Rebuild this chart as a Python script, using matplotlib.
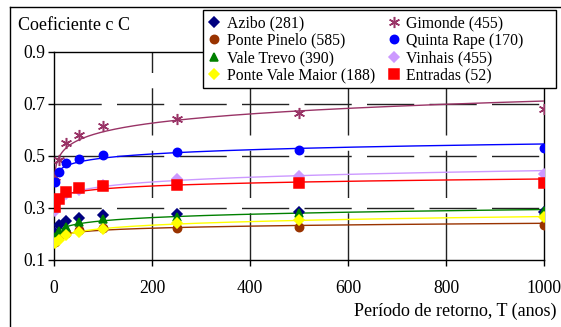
import numpy as np
import matplotlib
matplotlib.use("Agg")
import matplotlib.pyplot as plt
from matplotlib.patches import Rectangle
from matplotlib.lines import Line2D

plt.rcParams['font.family'] = ['Liberation Serif', 'DejaVu Serif']
plt.rcParams['lines.scale_dashes'] = False

# return periods (anos)
T = [2, 10, 25, 50, 100, 250, 500, 1000]

# coeficiente C per station
azibo = [0.205, 0.235, 0.251, 0.262, 0.272, 0.277, 0.284, 0.285]
ponte_pinelo = [0.17, 0.19, 0.205, 0.215, 0.222, 0.224, 0.228, 0.235]
vale_trevo = [0.19, 0.21, 0.228, 0.245, 0.258, 0.267, 0.279, 0.288]
ponte_vale_maior = [0.164, 0.177, 0.196, 0.209, 0.219, 0.241, 0.254, 0.267]
gimonde = [0.42, 0.485, 0.549, 0.58, 0.615, 0.642, 0.667, 0.68]
quinta_rape = [0.40, 0.44, 0.474, 0.487, 0.504, 0.517, 0.523, 0.53]
vinhais = [0.29, 0.33, 0.355, 0.37, 0.39, 0.41, 0.423, 0.431]
entradas = [0.305, 0.335, 0.363, 0.376, 0.386, 0.39, 0.395, 0.395]

labels = ['Azibo (281)', 'Ponte Pinelo (585)', 'Vale Trevo (390)', 'Ponte Vale Maior (188)',
          'Gimonde (455)', 'Quinta Rape (170)', 'Vinhais (455)', 'Entradas (52)']
series = [azibo, ponte_pinelo, vale_trevo, ponte_vale_maior,
          gimonde, quinta_rape, vinhais, entradas]
colors = ['#000080', '#993300', '#008000', '#ffff00',
          '#993366', '#0000ff', '#cc99ff', '#ff0000']
markers = ['D', 'o', '^', 'D', (6, 2, 0), 'o', 'D', 's']
msizes = [5, 6, 6, 5, 8, 6, 5, 6.5]
trend = [False, True, True, True, True, True, True, True]

fig = plt.figure(figsize=(5.61, 3.27), dpi=100)
ax = fig.add_axes([54/561, 1-260/327, 490/561, 208/327])

tt = np.linspace(1, 1000, 2000)
handles = []
for s, lab, c, m, ms, tr in zip(series, labels, colors, markers, msizes, trend):
    if tr:
        # power trendline (least squares in log-log) as in the spreadsheet
        b, a = np.polyfit(np.log(T), np.log(s), 1)
        ax.plot(tt, np.exp(a) * tt ** b, color=c, lw=1, zorder=3)
    h, = ax.plot(T, s, ls='none', marker=m, color=c, mec=c, ms=ms, mew=1.1, zorder=4, label=lab)
    handles.append(h)

ax.set_xlim(0, 1000)
ax.set_ylim(0.1, 0.9)
ax.set_xticks([0, 200, 400, 600, 800, 1000])
ax.set_yticks([0.1, 0.3, 0.5, 0.7, 0.9])
ax.set_yticklabels(['0.1', '0.3', '0.5', '0.7', '0.9'])
ax.tick_params(axis='both', labelsize=12.7, length=4.5, width=1, color='black')
ax.tick_params(axis='y', pad=2)
ax.tick_params(axis='x', pad=10)
for sp in ax.spines.values():
    sp.set_linewidth(1)
for x in [200, 400, 600, 800]:
    ax.axvline(x, color='#222222', lw=1, ls=(0, (34, 11)), zorder=1)
for y in [0.3, 0.5, 0.7]:
    ax.axhline(y, color='#222222', lw=1, ls=(0, (34, 11)), zorder=1)

fig.text(18/561, 1-25/327, 'Coeficiente c C', fontsize=13, va='center', ha='left')
fig.text(557/561, 1-311/327, 'Período de retorno, T (anos)', fontsize=13, va='center', ha='right')

# outer border (top and left)
fig.add_artist(Line2D([10/561, 1.0], [1-7/327, 1-7/327], color='black', lw=1, transform=fig.transFigure))
fig.add_artist(Line2D([10/561, 10/561], [0, 1-7/327], color='black', lw=1, transform=fig.transFigure))

# legend box
fig.add_artist(Rectangle((203/561, 1-88/327), 353/561, 78/327, transform=fig.transFigure,
                         facecolor='white', edgecolor='black', lw=1, zorder=4))
leg = fig.legend(handles=handles, loc='upper left', bbox_to_anchor=(208/561, 1-15/327),
                 ncol=2, frameon=False, fontsize=11.3, handlelength=0.8, handletextpad=0.4,
                 labelspacing=0.1, columnspacing=0.8, borderpad=0, borderaxespad=0, numpoints=1)
leg.set_zorder(5)

fig.savefig('out.png', dpi=100)
